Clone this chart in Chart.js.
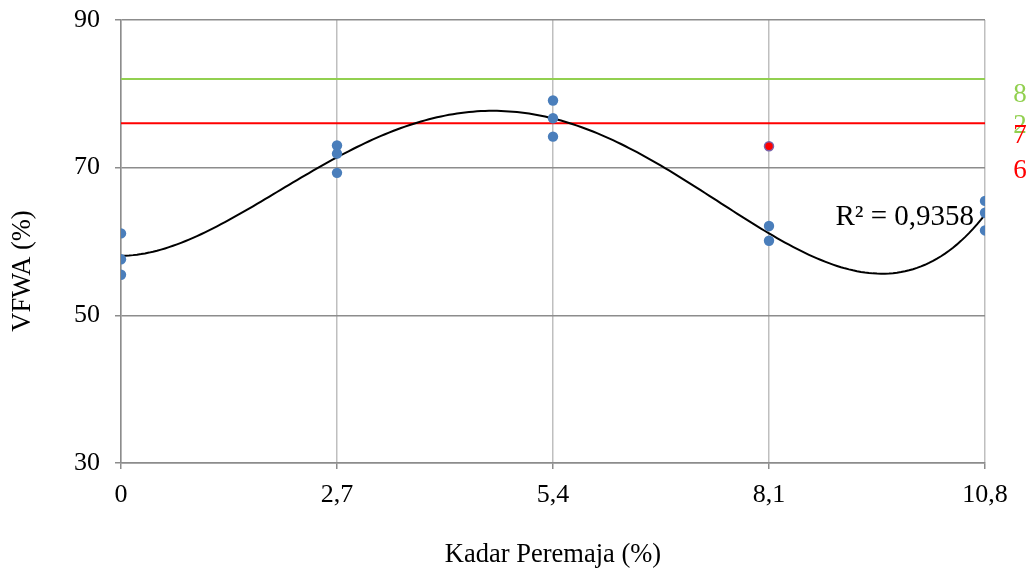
<!DOCTYPE html>
<html><head><meta charset="utf-8">
<script src="https://cdn.jsdelivr.net/npm/chart.js@4.4.0/dist/chart.umd.min.js"></script>
<style>html,body{margin:0;padding:0;background:#fff}#wrap{width:1031px;height:572px}</style>
</head><body><div id="wrap"><canvas id="c" width="1031" height="572"></canvas></div>
<script>
// ---- data ----
const xTickValues = [0, 2.7, 5.4, 8.1, 10.8];
const xTickLabels = ['0', '2,7', '5,4', '8,1', '10,8'];
const yTickValues = [30, 50, 70, 90];
const vfwaX = [0, 0, 0, 2.7, 2.7, 2.7, 5.4, 5.4, 5.4, 8.1, 8.1, 10.8, 10.8, 10.8];
const vfwaY = [61.1, 57.6, 55.5, 73.0, 71.9, 69.3, 79.1, 76.7, 74.2, 62.1, 60.1, 65.5, 63.9, 61.5];
const outlierX = [8.1];
const outlierY = [72.9];
const greenLimit = 82;
const redLimit = 76;
const greenLabels = ['8', '2'];
const greenLabelValues = [79.9, 75.6];
const redLabels = ['7', '6'];
const redLabelValues = [74.25, 69.6];
const r2Text = 'R² = 0,9358';
const r2Position = [8.93, 63.3];
const yTitleText = 'VFWA (%)';
const yTitleCenterValue = 56;
const trendDegree = 4;

// ---- polynomial least-squares trendline (computed from the data) ----
function polyfit(xs, ys, deg) {
  const n = deg + 1;
  const A = Array.from({length: n}, () => new Array(n + 1).fill(0));
  for (let k = 0; k < xs.length; k++) {
    for (let i = 0; i < n; i++) {
      for (let j = 0; j < n; j++) A[i][j] += Math.pow(xs[k], i + j);
      A[i][n] += ys[k] * Math.pow(xs[k], i);
    }
  }
  for (let c = 0; c < n; c++) {
    let p = c;
    for (let r = c + 1; r < n; r++) if (Math.abs(A[r][c]) > Math.abs(A[p][c])) p = r;
    [A[c], A[p]] = [A[p], A[c]];
    for (let r = 0; r < n; r++) {
      if (r === c) continue;
      const f = A[r][c] / A[c][c];
      for (let j = c; j <= n; j++) A[r][j] -= f * A[c][j];
    }
  }
  return A.map((row, i) => row[n] / row[i]);
}
const coeffs = polyfit(vfwaX, vfwaY, trendDegree);
const xMin = xTickValues[0], xMax = xTickValues[xTickValues.length - 1];
const trendData = [];
for (let i = 0; i <= 216; i++) {
  const x = xMin + (xMax - xMin) * i / 216;
  let y = 0;
  for (let d = coeffs.length - 1; d >= 0; d--) y = y * x + coeffs[d];
  trendData.push({x, y});
}

const serif = "'Liberation Serif', 'Times New Roman', serif";

const textPlugin = {
  id: 'texts',
  afterDatasetsDraw(chart) {
    const ctx = chart.ctx;
    const xs = chart.scales.x, ys = chart.scales.y;
    ctx.save();
    ctx.textBaseline = 'middle';
    ctx.font = '29px ' + serif;
    ctx.fillStyle = '#000';
    ctx.textAlign = 'left';
    ctx.fillText(r2Text, xs.getPixelForValue(r2Position[0]), ys.getPixelForValue(r2Position[1]));
    ctx.font = '27px ' + serif;
    ctx.textAlign = 'center';
    const lx = chart.chartArea.right + 35;
    ctx.fillStyle = '#92d050';
    greenLabels.forEach((t, i) => ctx.fillText(t, lx, ys.getPixelForValue(greenLabelValues[i])));
    ctx.fillStyle = '#ff0000';
    redLabels.forEach((t, i) => ctx.fillText(t, lx, ys.getPixelForValue(redLabelValues[i])));
    // y axis title
    ctx.fillStyle = '#000';
    ctx.font = '26.5px ' + serif;
    ctx.translate(ys.left + 23, ys.getPixelForValue(yTitleCenterValue));
    ctx.rotate(-Math.PI / 2);
    ctx.textAlign = 'center';
    ctx.fillText(yTitleText, 0, 0);
    ctx.restore();
  }
};

new Chart(document.getElementById('c'), {
  type: 'scatter',
  data: {
    datasets: [
      { label: 'outlier', data: outlierX.map((x, i) => ({x, y: outlierY[i]})),
        backgroundColor: '#ff0000', borderColor: '#7a62a8', borderWidth: 1.5, pointRadius: 4.5, order: 0 },
      { label: 'VFWA', data: vfwaX.map((x, i) => ({x, y: vfwaY[i]})),
        backgroundColor: '#4a7ebb', borderColor: '#4a7ebb', borderWidth: 0, pointRadius: 5.2, order: 1 },
      { label: 'trend', data: trendData, showLine: true, borderColor: '#000', borderWidth: 2,
        pointRadius: 0, fill: false, order: 2 },
      { label: 'red', data: [{x: xMin, y: redLimit}, {x: xMax, y: redLimit}], showLine: true,
        borderColor: '#ff0000', borderWidth: 2, pointRadius: 0, order: 3 },
      { label: 'green', data: [{x: xMin, y: greenLimit}, {x: xMax, y: greenLimit}], showLine: true,
        borderColor: '#92d050', borderWidth: 2, pointRadius: 0, order: 4 }
    ]
  },
  options: {
    responsive: false,
    animation: false,
    devicePixelRatio: 1,
    layout: { padding: { top: 20, right: 46, left: 0, bottom: 0 } },
    plugins: { legend: { display: false }, tooltip: { enabled: false } },
    scales: {
      x: {
        type: 'linear', min: xMin, max: xMax,
        afterBuildTicks: s => { s.ticks = xTickValues.map(v => ({value: v})); },
        afterFit: s => { s.height = 109; s.paddingLeft = 0; s.paddingRight = 0; },
        ticks: { callback: (v) => xTickLabels[xTickValues.indexOf(v)], color: '#000',
          font: { family: serif, size: 26 }, padding: 11, maxRotation: 0, autoSkip: false },
        grid: { color: '#bfbfbf', lineWidth: 1.5, tickLength: 6, tickColor: '#8c8c8c' },
        border: { color: '#8c8c8c', width: 1.5 },
        title: { display: true, text: 'Kadar Peremaja (%)', color: '#000',
          font: { family: serif, size: 26.5 }, padding: { top: 0, bottom: 1 } }
      },
      y: {
        type: 'linear', min: 30, max: 90,
        afterBuildTicks: s => { s.ticks = yTickValues.map(v => ({value: v})); },
        afterFit: s => { s.width = 121; s.paddingTop = 0; s.paddingBottom = 0; },
        ticks: { color: '#000', font: { family: serif, size: 26 }, padding: 15 },
        grid: { color: '#8c8c8c', lineWidth: 1.5, tickLength: 6 },
        border: { color: '#8c8c8c', width: 1.5 },
        title: { display: false }
      }
    }
  },
  plugins: [textPlugin]
});
</script>
</body></html>
